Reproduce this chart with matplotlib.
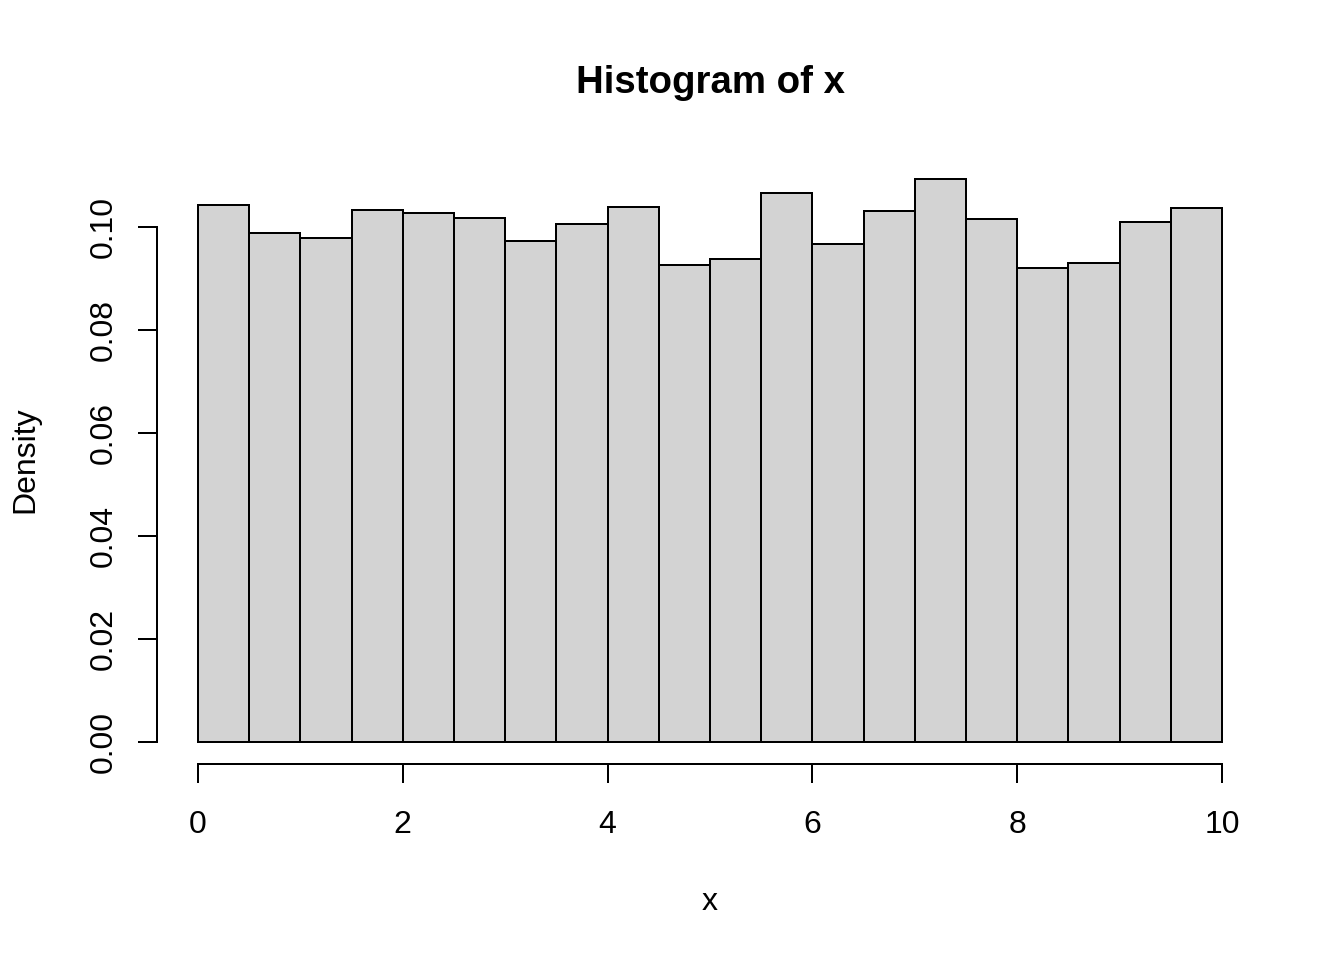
import matplotlib
matplotlib.use("Agg")
import matplotlib.pyplot as plt
import numpy as np

# histogram breaks and densities
breaks = np.arange(0, 10.5, 0.5)
density = [0.1043, 0.0989, 0.0979, 0.1034, 0.1027, 0.1019, 0.0973, 0.1006,
           0.1039, 0.0927, 0.0938, 0.1067, 0.0968, 0.1032, 0.1093, 0.1016,
           0.0920, 0.0930, 0.1010, 0.1037]
xticks = [0, 2, 4, 6, 8, 10]
yticks = [0.00, 0.02, 0.04, 0.06, 0.08, 0.10]

plt.rcParams["font.family"] = ["Liberation Sans", "DejaVu Sans"]

W, H = 1344, 960
fig = plt.figure(figsize=(W / 100, H / 100), dpi=100)
ax = fig.add_axes([157 / W, 1 - 764 / H, (1263 - 157) / W, (764 - 157) / H])

lw = 1.44  # 2 px
ax.bar(breaks[:-1], density, width=np.diff(breaks), align="edge",
       color="#D3D3D3", edgecolor="black", linewidth=lw)

ymax = max(density)
ax.set_xlim(-0.4, 10.4)
ax.set_ylim(-0.04 * ymax, 1.04 * ymax)

for s in ["top", "right"]:
    ax.spines[s].set_visible(False)
ax.spines["left"].set_bounds(0, 0.10)
ax.spines["bottom"].set_bounds(0, 10)
ax.spines["left"].set_linewidth(lw)
ax.spines["bottom"].set_linewidth(lw)

ax.set_xticks(xticks)
ax.set_xticklabels([str(t) for t in xticks])
ax.set_yticks(yticks)
ax.set_yticklabels([f"{t:.2f}" for t in yticks], rotation=90, va="center")
ax.tick_params(axis="both", length=13.7, width=lw, labelsize=23)
ax.tick_params(axis="x", pad=19.5)
ax.tick_params(axis="y", pad=14)

fig.text(710 / W, 1 - 93 / H, "Histogram of x", ha="center", va="baseline",
         fontsize=27.6, fontweight="bold")
fig.text(710 / W, 1 - 910 / H, "x", ha="center", va="baseline", fontsize=23)
fig.text(25 / W, 1 - 460 / H, "Density", ha="center", va="center",
         rotation=90, fontsize=23)

fig.savefig("out.png", dpi=100)
